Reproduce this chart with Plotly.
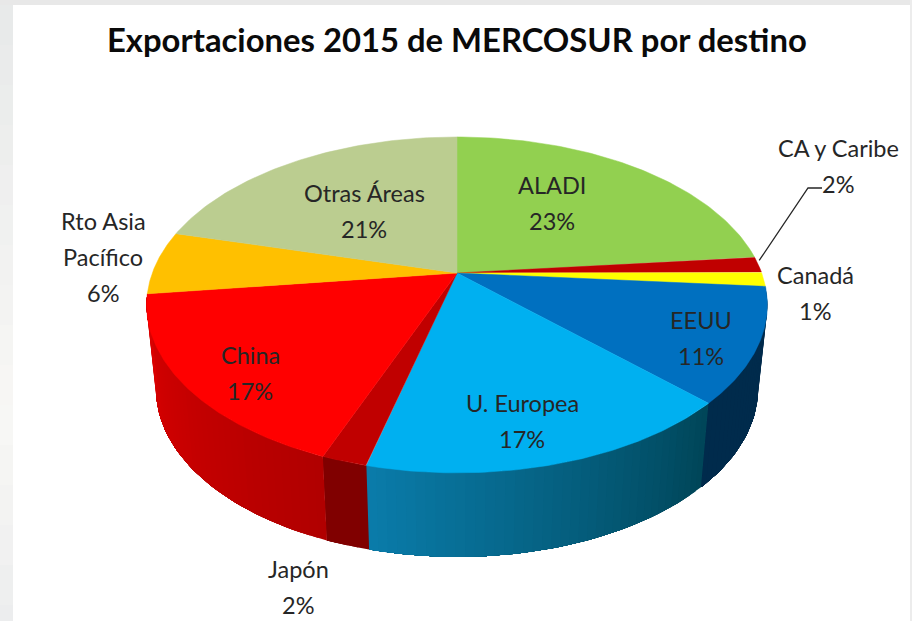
import numpy as np
import plotly.graph_objects as go

# ---- data ----
categories = ["ALADI", "CA y Caribe", "Canadá", "EEUU", "U. Europea", "Japón", "China", "Rto Asia Pacífico", "Otras Áreas"]
values = [23.4, 1.5, 1.4, 11.0, 16.6, 2.0, 17.1, 6.1, 20.9]
top_colors = ["#92D050", "#C00000", "#FFFF00", "#0070C0", "#00B0F0", "#C00000", "#FF0000", "#FFC000", "#BBCD90"]
# side-wall shading: colour at the start and end of each slice's wall (clockwise)
side_start = ["#5E8A30", "#800000", "#A0A000", "#002B4C", "#004558", "#800000", "#B00000", "#C89000", "#8A9A60"]
side_end = ["#5E8A30", "#800000", "#A0A000", "#002B4C", "#0A7CAA", "#800000", "#DC0000", "#C89000", "#8A9A60"]
title = "Exportaciones 2015 de MERCOSUR por destino"
label_lines = [["ALADI"], ["CA y Caribe"], ["Canadá"], ["EEUU"], ["U. Europea"], ["Japón"], ["China"], ["Rto Asia", "Pacífico"], ["Otras Áreas"]]
label_pos = [(552, 185), (838, 148), (815, 275), (701, 320), (522, 403), (298, 569), (250, 355), (103, 221), (364, 193)]
label_step = 36

# ---- projection of the tilted pie ----
X0, Y0, B, A, K = 457, 273, 304.7, 161.9, 0.19
DEPTH, SHRINK = 84, 0.97


def top_rim(theta):
    u, v = np.sin(theta), np.cos(theta)
    s = 1 / (1 + K * v)
    return X0 + B * u * s, Y0 - A * v * s


def bottom_rim(theta):
    x, y = top_rim(theta)
    return X0 + (x - X0) * SHRINK, y + DEPTH


def mix(c1, c2, t):
    a = [int(c1[i:i + 2], 16) for i in (1, 3, 5)]
    b = [int(c2[i:i + 2], 16) for i in (1, 3, 5)]
    return "rgb(%d,%d,%d)" % tuple(round(p + (q - p) * t) for p, q in zip(a, b))


fractions = np.array(values) / sum(values)
edges = np.concatenate([[0], np.cumsum(fractions)]) * 2 * np.pi
VIS0, VIS1 = np.radians(94.7), np.radians(262.7)

fig = go.Figure()

# side walls: each strip runs on to the end of its slice, so the next strip overpaints it without a seam
for i, name in enumerate(categories):
    a0, a1 = max(edges[i], VIS0), min(edges[i + 1], VIS1)
    if a1 <= a0:
        continue
    n = max(1, int(np.degrees(a1 - a0) / 1.5))
    steps = np.linspace(a0, a1, n + 1)
    for j in range(n):
        th = np.linspace(steps[j], a1, max(3, (n - j) + 1))
        tx, ty = top_rim(th)
        bx, by = bottom_rim(th[::-1])
        col = mix(side_start[i], side_end[i], (j + 0.5) / n)
        fig.add_trace(go.Scatter(x=np.r_[tx, bx, tx[0]], y=np.r_[ty, by, ty[0]], mode="lines", fill="toself",
                                 fillcolor=col, line=dict(width=0), hoverinfo="skip", showlegend=False))

# top faces
for i, name in enumerate(categories):
    th = np.linspace(edges[i], edges[i + 1], 80)
    x, y = top_rim(th)
    fig.add_trace(go.Scatter(x=np.r_[X0, x, X0], y=np.r_[Y0, y, Y0], mode="lines", fill="toself",
                             fillcolor=top_colors[i], line=dict(color=top_colors[i], width=0.5),
                             name=name, text=f"{name}: {round(values[i])}%", hoverinfo="text", showlegend=False))

# leader line for CA y Caribe
mid = (edges[1] + edges[2]) / 2
lx, ly = top_rim(mid)
fig.add_trace(go.Scatter(x=[lx + 1, 808, 822], y=[ly - 4, 188, 188], mode="lines", line=dict(color="#262626", width=1.3),
                         hoverinfo="skip", showlegend=False))

# labels
annotations = []
for i, lines in enumerate(label_lines):
    px, py = label_pos[i]
    for k, line in enumerate(lines + [f"{round(values[i])}%"]):
        annotations.append(dict(x=px, y=py + k * label_step, text=line, showarrow=False, xanchor="center", yanchor="middle",
                                font=dict(family="Lato", size=23.5, color="#262626")))
annotations.append(dict(x=457, y=39, text=f"<b>{title}</b>", showarrow=False, xanchor="center", yanchor="middle",
                        font=dict(family="Lato", size=32.8, color="#0A0A0A")))

# surrounding slide background
shapes = [dict(type="rect", x0=0, x1=912, y0=0, y1=5, fillcolor="#E8E8E8", line_width=0, layer="below"),
          dict(type="rect", x0=910, x1=912, y0=0, y1=621, fillcolor="#ECECEC", line_width=0, layer="below")]
for s in range(16):
    t = s / 15
    col = mix("#E8EAEA", "#F8F7F5", t / 0.65) if t < 0.65 else mix("#F8F7F5", "#ECEDEE", (t - 0.65) / 0.35)
    shapes.append(dict(type="rect", x0=0, x1=13, y0=5 + s * 40, y1=5 + (s + 1) * 40, line_width=0, layer="below", fillcolor=col))

fig.update_layout(width=912, height=621, margin=dict(l=0, r=0, t=0, b=0), paper_bgcolor="white", plot_bgcolor="white",
                  xaxis=dict(range=[0, 912], visible=False, fixedrange=True),
                  yaxis=dict(range=[621, 0], visible=False, fixedrange=True),
                  annotations=annotations, shapes=shapes, showlegend=False)
fig.write_html("out.html", config={"displayModeBar": False},
               post_script="document.body.style.margin='0';document.documentElement.style.overflow='hidden';")
